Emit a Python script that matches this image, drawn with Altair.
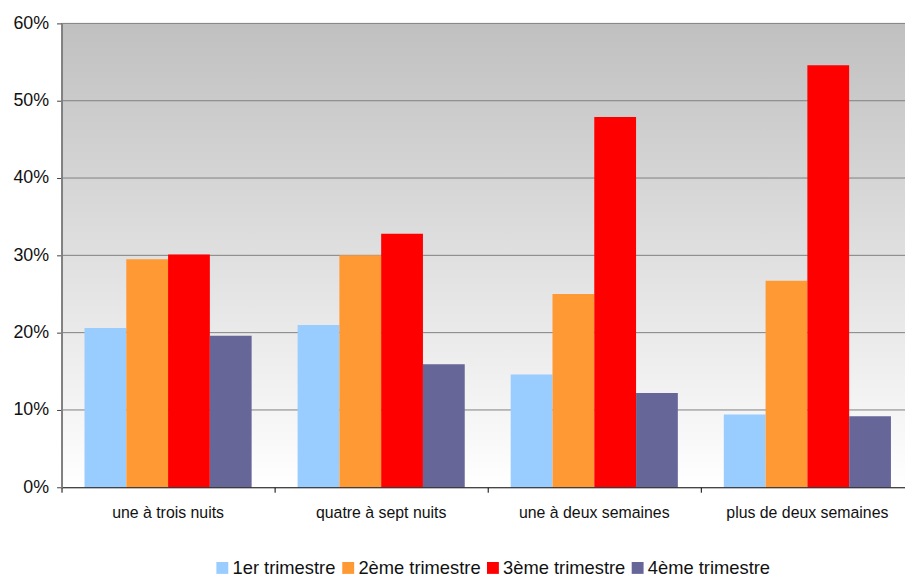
import altair as alt
import pandas as pd

categories = ["une à trois nuits", "quatre à sept nuits", "une à deux semaines", "plus de deux semaines"]
series = ["1er trimestre", "2ème trimestre", "3ème trimestre", "4ème trimestre"]
q1 = [0.206, 0.210, 0.146, 0.094]
q2 = [0.295, 0.300, 0.250, 0.267]
q3 = [0.301, 0.328, 0.479, 0.546]
q4 = [0.196, 0.159, 0.122, 0.092]
colors = ["#99CCFF", "#FF9933", "#FF0000", "#666699"]
y_ticks = [0.0, 0.1, 0.2, 0.3, 0.4, 0.5, 0.6]
grid_vals = [0.1, 0.2, 0.3, 0.4, 0.5, 0.6]

rows = []
for s, vals in zip(series, [q1, q2, q3, q4]):
    for c, v in zip(categories, vals):
        rows.append({"cat": c, "series": s, "value": v})
df = pd.DataFrame(rows)

W, H = 860, 468
FONT = "Liberation Sans"

yscale = alt.Scale(domain=[0, 0.6], nice=False)
yaxis = alt.Axis(values=y_ticks, format=".0%", labelFontSize=18, tickSize=5,
                 tickColor="#404040", domainColor="#808080", domainWidth=2,
                 labelPadding=8, labelColor="#111111", grid=False, zindex=1)

bg = alt.Chart(pd.DataFrame({"a": [0]})).mark_rect(
    fill=alt.Gradient(
        gradient="linear",
        stops=[alt.GradientStop(color="#c0c0c0", offset=0),
               alt.GradientStop(color="#ffffff", offset=1)],
        x1=0, x2=0, y1=0, y2=1,
    )
).encode(x=alt.value(0), x2=alt.value(W), y=alt.value(0), y2=alt.value(H))

grid = alt.Chart(pd.DataFrame({"g": grid_vals})).mark_rule(
    color="#808080", strokeWidth=1
).encode(y=alt.Y("g:Q", scale=yscale, axis=yaxis, title=None))

bars = alt.Chart(df).mark_bar(stroke=None).encode(
    x=alt.X("cat:N", sort=categories, title=None,
            scale=alt.Scale(domain=categories, paddingInner=0, paddingOuter=0),
            axis=alt.Axis(bandPosition=0, labelAngle=0, tickSize=5,
                          tickColor="black", domainColor="black", domainWidth=1,
                          labelFontSize=16, labelPadding=12, labelColor="#111111",
                          grid=False, zindex=1)),
    xOffset=alt.XOffset("series:N", sort=series,
                        scale=alt.Scale(domain=series, paddingInner=0, paddingOuter=0.55)),
    y=alt.Y("value:Q", scale=yscale, title=None, axis=yaxis),
    color=alt.Color("series:N", sort=series,
                    scale=alt.Scale(domain=series, range=colors),
                    legend=alt.Legend(title=None, orient="none", direction="horizontal",
                                      legendX=153, legendY=540, symbolType="square",
                                      symbolSize=144, symbolStrokeWidth=0, labelFontSize=18.5,
                                      labelOffset=1, columnPadding=3, padding=0,
                                      labelColor="#111111")),
)

chart = alt.layer(bg, grid, bars).properties(
    width=W, height=H,
    autosize=alt.AutoSizeParams(type="none"),
    padding={"left": 54, "top": 13, "right": -9, "bottom": 90},
).configure(font=FONT).configure_view(stroke=None)

chart.save("out.html", embed_options={"renderer": "svg", "actions": False})
